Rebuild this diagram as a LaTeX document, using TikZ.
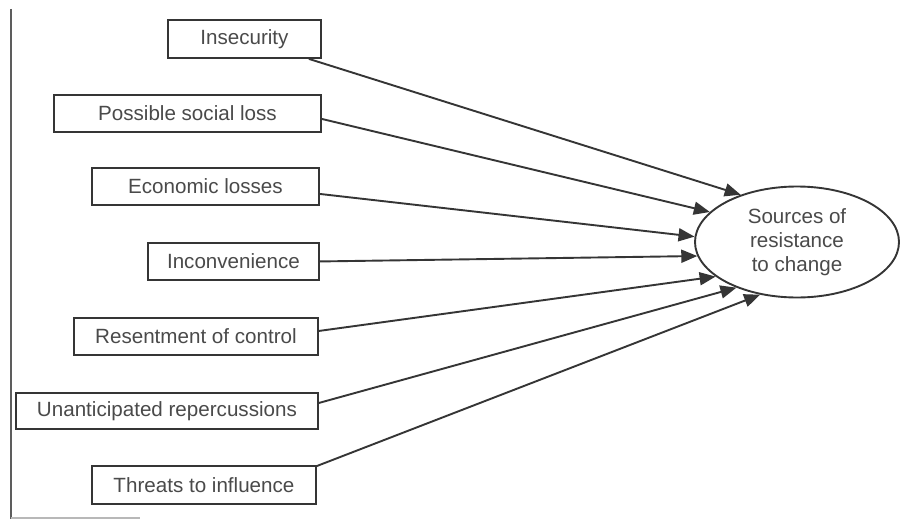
\documentclass[tikz,border=0pt]{standalone}
\usepackage{fontspec}
\setmainfont{Liberation Sans}
\usetikzlibrary{arrows.meta,shapes.geometric}
\definecolor{ink}{HTML}{353535}
\definecolor{txt}{HTML}{4A4A4A}
\begin{document}
\begin{tikzpicture}[x=1pt,y=-1pt,
  box/.style={draw=ink,line width=1.9pt,rectangle,anchor=north west,inner sep=0pt,
    text=txt,font=\fontsize{20.6}{24}\selectfont},
  link/.style={draw=ink,line width=1.9pt,-{Triangle[length=16pt,width=13pt]}}]
\useasboundingbox (0,0) rectangle (901,519);
\fill[white] (0,0) rectangle (901,519);
% left border line
\draw[ink!80,line width=2pt] (11,9) -- (11,519);
\draw[ink!35,line width=1.2pt] (11,518) -- (140,518);
% boxes
\node[box,minimum width=153pt,minimum height=38pt] (ins) at (167,19) {Insecurity};
\node[box,minimum width=267pt,minimum height=37pt] (psl) at (53,94) {Possible social loss};
\node[box,minimum width=227pt,minimum height=37pt] (eco) at (91,167) {Economic losses};
\node[box,minimum width=171pt,minimum height=37pt] (inc) at (147,242) {Inconvenience};
\node[box,minimum width=244pt,minimum height=37pt] (res) at (73,317) {Resentment of control};
\node[box,minimum width=302pt,minimum height=36pt] (una) at (15,392) {Unanticipated repercussions};
\node[box,minimum width=224pt,minimum height=38pt] (thr) at (91,465) {Threats to influence};
% ellipse
\node[draw=ink,line width=1.9pt,ellipse,minimum width=204pt,minimum height=111pt,inner sep=0pt,
  text=txt,align=center,font=\fontsize{20.6}{24}\selectfont] (src) at (797,242)
  {Sources of\\resistance\\to change};
% connectors
\draw[link] ([xshift=-13pt]ins.south east) -- (src.140);
\draw[link] ([yshift=-5.5pt]psl.east) -- (src.161);
\draw[link] ([yshift=-7.5pt]eco.east) -- (src.177);
\draw[link] (inc.east) -- (src.188);
\draw[link] ([yshift=5.5pt]res.east) -- (src.203);
\draw[link] ([yshift=8pt]una.east) -- (src.217);
\draw[link] ([yshift=-1pt]thr.north east) -- (src.235);
\end{tikzpicture}
\end{document}
